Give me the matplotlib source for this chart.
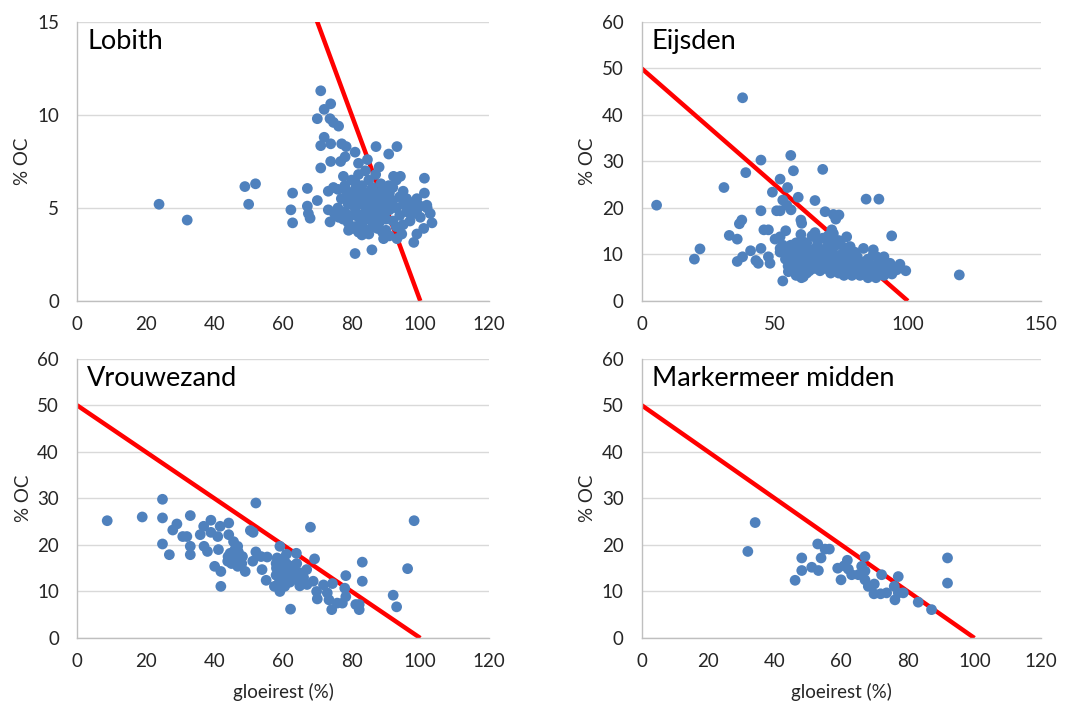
import matplotlib.pyplot as plt

plt.rcParams['font.family'] = ['Lato', 'DejaVu Sans']

# Lobith
lob_x = [23.9, 32.1, 48.9, 52.0, 50.0, 62.8, 62.3, 62.8, 67.1, 67.1, 67.4, 67.9, 70.0,
         71.0, 70.0, 72.0, 73.9, 73.7, 74.7, 76.2, 72.0, 71.0, 73.9, 77.1, 78.4, 71.0,
         73.9, 76.8, 78.1, 81.0, 87.1, 93.2, 90.8, 82.0, 84.6, 88.0, 77.6, 81.0, 92.2,
         94.2, 101.2, 101.2, 90.8, 73.2, 74.7, 81.0, 85.9, 98.1, 99.0, 101.0, 102.9,
         103.4, 101.9, 99.0, 89.3, 93.2, 94.6, 79.1, 83.0, 73.7, 73.2, 76.2,
         77, 78, 78, 79, 79, 80, 80, 80, 81, 81, 81, 82, 82, 82, 83, 83, 83, 84, 84, 84,
         84, 85, 85, 85, 86, 86, 86, 87, 87, 87, 88, 88, 88, 89, 89, 89, 90, 90, 90, 91,
         91, 92, 92, 92, 93, 93, 94, 94, 95, 95, 96, 96, 97, 97, 98, 98, 99, 100, 100, 102,
         79.5, 80.5, 81.5, 82.5, 83.5, 84.5, 85.5, 86.5, 87.5, 88.5, 89.5, 90.5, 91.5,
         83.5, 85.5, 86.5, 87.5, 88.5, 80.5, 78.5, 77.5, 76, 75, 76, 82, 85, 89, 91, 93, 95]
lob_y = [5.2, 4.35, 6.15, 6.3, 5.2, 5.8, 4.9, 4.2, 6.05, 5.1, 4.7, 4.45, 5.4,
         11.3, 9.8, 10.3, 10.6, 9.8, 9.6, 9.4, 8.8, 8.35, 8.45, 8.45, 8.3, 7.15,
         7.5, 7.5, 7.75, 8.0, 8.3, 8.3, 7.9, 7.4, 7.6, 7.2, 6.7, 6.4, 6.7,
         6.7, 6.6, 5.8, 6.2, 5.9, 6.1, 2.55, 2.75, 3.15, 3.6, 3.9, 4.7,
         4.2, 5.15, 5.5, 3.35, 3.35, 3.6, 3.8, 3.55, 4.25, 4.9, 4.5,
         5.5, 6.2, 4.8, 5.2, 4.2, 5.8, 4.6, 6.5, 5.0, 4.0, 6.0, 5.5, 4.5, 6.8, 5.2, 4.1,
         6.2, 5.8, 4.8, 3.8, 7.0, 5.0, 6.5, 4.4, 5.6, 4.0, 6.1, 5.2, 4.6, 6.8, 5.8, 4.2,
         5.0, 6.0, 4.8, 5.4, 5.2, 4.4, 3.8, 5.8, 4.9, 5.4, 4.3, 6.1, 5.0, 4.0, 5.6, 4.6,
         5.2, 4.1, 5.5, 4.8, 5.0, 4.3, 5.3, 4.7, 4.9, 5.1, 4.5, 5.0,
         5.6, 5.3, 4.7, 5.9, 5.6, 5.3, 4.8, 5.1, 5.7, 5.3, 4.5, 5.6, 5.2,
         4.4, 5.9, 4.5, 3.9, 6.3, 3.9, 5.9, 4.4, 5.0, 4.7, 6.0, 3.7, 3.6, 3.7, 3.5, 6.5, 5.9]

# Eijsden
eij_x = [5.6, 19.8, 21.9, 30.9, 37.9, 39.1, 44.8, 56.0, 57.0, 68.0, 52.0, 49.1, 54.8,
         58.8, 65.1, 84.3, 89.1, 53.0, 54.5, 56.1, 50.7, 44.8, 52.0, 37.6, 36.7, 59.8,
         60.1, 68.9, 72.0, 74.1, 72.9, 32.9, 35.9, 45.9, 47.6, 54.1, 65.1, 59.8, 50.1,
         71.4, 77.0, 93.9, 40.9, 44.8, 37.9, 35.9, 42.9, 43.8, 48.2, 47.6, 53.0, 55.1,
         60.7, 83.3, 87.0, 91.0, 93.3, 97.0, 99.2, 95.8, 119.3, 52.0, 52.0, 70.7, 74.5,
         78.3, 88.3,
         55, 56, 57, 58, 58, 59, 60, 60, 61, 61, 62, 62, 63, 63, 64, 64, 65, 65, 66, 66,
         67, 67, 68, 68, 69, 69, 70, 70, 71, 71, 72, 72, 73, 73, 74, 74, 75, 75, 76, 76,
         77, 77, 78, 78, 79, 79, 80, 80, 81, 81, 82, 82, 83, 83, 84, 84, 85, 85, 86, 86,
         87, 88, 88, 89, 90, 90, 91, 92, 93, 94, 57, 59, 61, 63, 65, 67, 69, 71, 73, 75,
         62, 66, 70, 72, 74, 68, 56, 58, 54, 53, 55, 60, 64, 76, 80, 85, 87, 89,
         52, 53, 54, 57, 58, 60, 62]
eij_y = [20.6, 9.0, 11.2, 24.4, 43.7, 27.6, 30.3, 31.3, 28.0, 28.3, 26.2, 23.4, 24.4,
         22.3, 21.6, 21.9, 21.9, 21.7, 20.6, 19.6, 19.4, 19.4, 19.4, 17.4, 16.6, 17.4,
         16.7, 19.2, 18.6, 18.5, 17.6, 14.1, 13.3, 15.3, 15.3, 15.1, 14.7, 14.3, 13.3,
         15.3, 13.8, 14.0, 10.8, 11.3, 9.5, 8.5, 8.7, 8.1, 8.1, 9.5, 4.3, 6.3,
         5.2, 11.3, 11.0, 9.5, 8.1, 7.9, 6.5, 6.7, 5.6, 11.3, 13.8, 13.1, 12.8,
         11.7, 9.5,
         10, 8.5, 11, 9, 7, 10.5, 8, 6, 9.5, 11.5, 7.5, 10, 8.5, 6.5, 9, 11, 7, 10, 8, 12,
         9.5, 6.5, 11, 8, 10, 7, 9, 12, 8, 6, 10, 11.5, 7.5, 9, 8.5, 6, 10, 7, 9, 5.5,
         8, 10.5, 6.5, 9, 7.5, 5.5, 8.5, 6, 7, 9.5, 5.5, 8, 6.5, 7.5, 6, 8.5, 5, 7, 6.5, 5.5,
         7.5, 6, 5, 7, 6, 8, 5.5, 7, 6.5, 5.8, 9.5, 8.2, 7.2, 10.5, 8.8, 11, 8.6, 10.5, 12, 8.4,
         12.5, 13, 14, 14.5, 13, 13.5, 12, 12.5, 9, 11, 7.5, 13, 14, 11.5, 10.5, 9, 10, 8.5,
         10.5, 12, 11.5, 7, 5.5, 5, 6]

# Vrouwezand
vrw_x = [8.8, 19.0, 24.9, 24.9, 24.9, 26.9, 27.9, 29.1, 30.8, 32.0, 33.0, 33.0, 33.0,
         35.9, 36.9, 37.0, 38.0, 39.0, 39.0, 41.0, 41.2, 40.1, 41.9, 41.9, 41.7, 44.2,
         44.2, 45.6, 46.8, 44.6, 43.9, 45.6, 46.8, 48.2, 49.0, 50.5, 51.3, 52.1, 52.1,
         51.2, 53.6, 53.9, 55.1, 55.4, 57.5, 59.1, 58.3, 58.1, 59.1, 59.1, 60.3, 60.5,
         62.2, 61.0, 62.9, 63.9, 63.7, 64.9, 66.9, 68.0, 69.2, 68.8, 69.8, 70.0, 71.8,
         72.9, 73.4, 74.4, 74.2, 75.8, 78.0, 78.3, 78.3, 77.3, 81.2, 82.2, 82.2, 83.1,
         83.1, 92.1, 93.1, 96.3, 98.2,
         58, 59, 60, 60, 61, 61, 62, 62, 63, 63, 64, 64, 65, 59, 60, 61, 58, 66, 67,
         45, 46, 47, 48, 46, 45, 44]
vrw_y = [25.2, 26.0, 29.8, 25.8, 20.2, 17.9, 23.2, 24.5, 21.8, 21.8, 26.3, 19.7, 17.9,
         22.2, 24.0, 19.7, 18.6, 25.3, 22.7, 21.8, 19.0, 15.4, 14.3, 11.1, 24.0, 24.7,
         22.2, 20.7, 19.7, 18.2, 16.5, 16.5, 15.4, 17.5, 14.3, 23.1, 22.7, 29.0, 18.5,
         16.5, 17.5, 14.7, 12.4, 17.4, 11.1, 19.7, 17.2, 15.0, 13.9, 10.0, 16.5, 11.1,
         6.2, 12.5, 15.4, 18.2, 13.8, 11.2, 14.7, 23.8, 17.0, 12.2, 10.0, 8.4, 11.4,
         9.7, 8.2, 11.7, 6.1, 7.5, 10.7, 13.4, 8.9, 7.5, 7.2, 6.1, 7.2, 16.3,
         12.2, 9.2, 6.7, 14.9, 25.2,
         16, 15, 14, 17, 13, 16, 14.5, 12, 15.5, 13, 16, 12.5, 14, 12.5, 11.5, 18, 13.5, 13, 11.5,
         18, 17, 18.5, 16, 19, 16, 17.5]

# Markermeer midden
mkm_x = [31.9, 34.1, 46.1, 48.1, 48.1, 51.1, 52.9, 53.1, 53.9, 55.1, 56.4, 58.9, 59.9,
         60.8, 61.8, 62.1, 63.1, 65.1, 66.1, 67.1, 67.1, 67.1, 68.1, 69.9, 69.8, 72.1,
         71.8, 73.6, 75.9, 76.1, 77.1, 77.1, 78.6, 83.1, 87.1, 91.9, 91.9]
mkm_y = [18.6, 24.8, 12.4, 17.2, 14.5, 15.2, 20.2, 14.5, 17.2, 19.1, 19.1, 15.0, 12.5,
         15.5, 16.7, 14.8, 13.6, 13.6, 15.4, 17.5, 14.4, 12.5, 11.1, 11.6, 9.5, 13.6,
         9.5, 9.7, 11.1, 8.2, 13.2, 9.7, 9.7, 7.7, 6.1, 17.2, 11.8]

# grens: %OC = 50 - 0.5 * gloeirest
line_x = [0, 100]
line_y = [50, 0]

panels = [
    ('Lobith', lob_x, lob_y, [0.0715, 0.5755, 0.3825, 0.3935], (0, 120, 20), (0, 15, 5), False),
    ('Eijsden', eij_x, eij_y, [0.5958, 0.5755, 0.3708, 0.3935], (0, 150, 50), (0, 60, 10), False),
    ('Vrouwezand', vrw_x, vrw_y, [0.0715, 0.1001, 0.3825, 0.394], (0, 120, 20), (0, 60, 10), True),
    ('Markermeer midden', mkm_x, mkm_y, [0.5958, 0.1001, 0.3708, 0.394], (0, 120, 20), (0, 60, 10), True),
]

fig = plt.figure(figsize=(10.77, 7.09), dpi=100)

for name, xs, ys, rect, xt, yt, show_xlabel in panels:
    ax = fig.add_axes(rect)
    ax.plot(line_x, line_y, color='#ff0000', lw=3.2, zorder=2, solid_capstyle='butt')
    ax.scatter(xs, ys, s=60, color='#4f81bd', edgecolors='none', zorder=3)
    ax.set_xlim(xt[0], xt[1])
    ax.set_ylim(yt[0], yt[1])
    ax.set_xticks(range(xt[0], xt[1] + 1, xt[2]))
    ax.set_yticks(range(yt[0], yt[1] + 1, yt[2]))
    ax.grid(axis='y', color='#d9d9d9', lw=1.0, zorder=0)
    ax.set_axisbelow(True)
    for side in ['top', 'right']:
        ax.spines[side].set_visible(False)
    for side in ['left', 'bottom']:
        ax.spines[side].set_color('#bfbfbf')
        ax.spines[side].set_linewidth(1.0)
    ax.tick_params(length=0, labelsize=13.5, labelcolor='#262626')
    ax.tick_params(axis='y', pad=13)
    ax.tick_params(axis='x', pad=11)
    ax.set_ylabel('% OC', fontsize=13.5, color='#262626', labelpad=4)
    if show_xlabel:
        ax.set_xlabel('gloeirest (%)', fontsize=13.5, color='#262626', labelpad=9)
    ax.text(0.025, 0.975, name, transform=ax.transAxes, fontsize=19.5,
            va='top', ha='left', color='#000000')

fig.savefig('out.png', dpi=100)
